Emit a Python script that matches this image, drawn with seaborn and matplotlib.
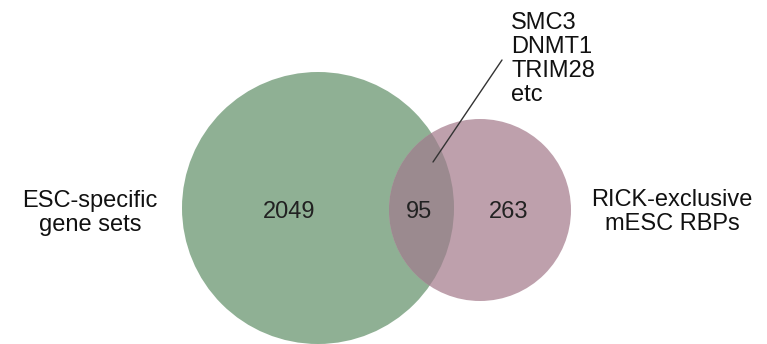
import seaborn as sns
import matplotlib.pyplot as plt
from matplotlib.patches import Circle

# data
set_names = ['ESC-specific\ngene sets', 'RICK-exclusive\nmESC RBPs']
counts = [2049, 95, 263]  # only left, shared, only right
shared_genes = ['SMC3', 'DNMT1', 'TRIM28', 'etc']

sns.set_theme(style='white')
plt.rcParams['font.family'] = ['Liberation Sans', 'DejaVu Sans']

fig = plt.figure(figsize=(7.67, 3.44), dpi=100)
ax = fig.add_axes([0, 0, 1, 1])
ax.set_xlim(0, 767)
ax.set_ylim(344, 0)
ax.set_aspect('equal')
ax.axis('off')

green = '#8fb094'
pink = '#bea0ac'
both = '#9b8a8f'

c_left = Circle((318, 208), 136, facecolor=green, edgecolor='none')
c_right = Circle((480, 210), 91, facecolor=pink, edgecolor='none')
ax.add_patch(c_left)
ax.add_patch(c_right)
c_mid = Circle((480, 210), 91, facecolor=both, edgecolor='none')
ax.add_patch(c_mid)
c_mid.set_clip_path(c_left)

fs = 17
ax.text(289, 212, str(counts[0]), ha='center', va='center', fontsize=fs, color='#222222')
ax.text(419, 212, str(counts[1]), ha='center', va='center', fontsize=fs, color='#222222')
ax.text(509, 212, str(counts[2]), ha='center', va='center', fontsize=fs, color='#222222')

ax.text(90, 213, set_names[0], ha='center', va='center', fontsize=fs,
        color='#111111', linespacing=1.13)
ax.text(672, 212, set_names[1], ha='center', va='center', fontsize=fs,
        color='#111111', linespacing=1.13)

ax.text(511, 59, '\n'.join(shared_genes), ha='left', va='center', fontsize=fs,
        color='#111111', linespacing=1.1)
ax.plot([502, 433], [60, 162], color='#333333', lw=1)

plt.savefig('out.png', dpi=100)
